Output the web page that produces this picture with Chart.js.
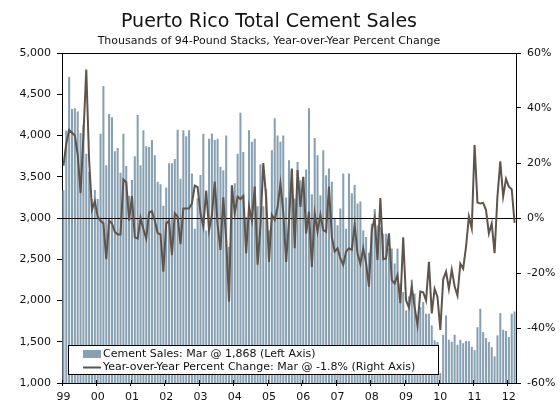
<!DOCTYPE html>
<html>
<head>
<meta charset="utf-8">
<script src="https://cdn.jsdelivr.net/npm/chart.js@4/dist/chart.umd.min.js"></script>
<style>
html,body{margin:0;padding:0;background:#fff;}
#wrap{width:560px;height:408px;position:relative;}
</style>
</head>
<body>
<div id="wrap"><canvas id="c" width="560" height="408"></canvas></div>
<script>
// ---- data ----
const titleText = 'Puerto Rico Total Cement Sales';
const subtitleText = 'Thousands of 94-Pound Stacks, Year-over-Year Percent Change';
const years = ['99','00','01','02','03','04','05','06','07','08','09','10','11','12'];
const monthNames = ['Jan','Feb','Mar','Apr','May','Jun','Jul','Aug','Sep','Oct','Nov','Dec'];
const leftTicks = [1000,1500,2000,2500,3000,3500,4000,4500,5000];
const rightTicks = [-60,-40,-20,0,20,40,60];

// Cement sales, thousands of 94-lb bags, Jan 1999 - Mar 2012
const cementSales = [
  3340,4060,4710,4320,4330,4290,4030,4130,3780,3560,3230,3340,
  3230,4020,4600,3640,4260,4220,3810,3850,3550,4020,3630,3270,
  3460,3750,4250,3640,4065,3870,3860,3945,3760,3440,3410,3150,
  3370,3665,3665,3715,4070,3475,4065,3990,4065,3540,2870,3240,
  3520,4020,2850,3960,4025,3945,3960,3620,3580,4000,2650,3400,
  3420,3780,4275,3800,3010,4065,3925,3960,3143,3652,3143,3349,
  2851,3822,4210,4000,3925,4000,3248,3701,3588,3236,3680,3458,
  3498,3588,4330,3288,3970,3762,3276,3822,3519,3600,3438,2993,
  2912,3115,3540,2870,3540,3300,3400,3175,3200,2850,2770,2580,
  2930,3110,2910,2890,2810,2810,2630,2630,2450,2629,2204,2102,
  1880,2050,2253,2083,1799,1920,1981,1840,1840,1698,1516,1496,
  1120,1585,1819,1524,1500,1585,1464,1524,1483,1508,1508,1439,
  1398,1677,1900,1617,1545,1496,1435,1322,1577,1848,1645,1630,
  1557,1840,1868
];

// Year-over-year percent change
const yoyChange = [
  19,27,32,31,30,23,9,30,54,21,3,6,
  0.5,-1,-2,-15,-1,-2,-5,-6,-6,14,13,-1,
  8,-7,-7.5,0,-4,-7.5,2,2.5,-1,-5.5,-6,-19.5,
  -2,-1,-13.5,1.7,0.5,-9.5,3.5,3.5,3.5,5.3,11.8,11.2,
  1.7,-3.1,10,-4.4,1,13.2,-2.5,-11.6,7.5,-8,-30.4,11.8,
  1.7,7.8,6.9,8,-12.8,4.1,-1,11.4,-17,-3,20,7.3,
  -16,1.2,-0.7,4,12.6,2,-16,-1,18,-11,17.4,4,
  15,-5.6,2.3,-17.8,1.7,-5,1.2,-4.4,-5,11.4,-7,-12.2,
  -11,-14.7,-17,-12.2,-11,-11.6,-2.5,-12.8,-16.7,-11,-16.4,-25,
  -4.4,0,-15.3,7.3,-15,-14.7,-5.6,-22.6,-23.8,-20.8,-31,-7,
  -30,-32.5,-25,-32.4,-39,-26.7,-27,-30,-15.9,-34.7,-25.8,-28.7,
  -40.7,-22.3,-19.5,-25.8,-18.8,-24.8,-28.2,-16.6,-18.4,-10.4,0.5,-3.8,
  26.5,5.6,5.3,5.5,2.9,-5.6,-2,-12.8,7.8,20.6,7.8,14.2,
  11.4,10.5,-1.8
];

// ---- build ----
const categories = cementSales.map((_, i) => monthNames[i % 12] + ' ' + years[Math.floor(i / 12)]);
const lastIdx = cementSales.length - 1;
const lastMonth = monthNames[lastIdx % 12];
const fmt = v => v.toLocaleString('en-US');
const barLabel = `Cement Sales: ${lastMonth} @ ${fmt(cementSales[lastIdx])} (Left Axis)`;
const lineLabel = `Year-over-Year Percent Change: ${lastMonth} @ ${yoyChange[lastIdx].toFixed(1)}% (Right Axis)`;

const FONT = '"DejaVu Sans", Verdana, sans-serif';
const BAR_COLOR = '#88a1b2';
const LINE_COLOR = '#5e544b';
const TEXT_COLOR = '#111';

const decorPlugin = {
  id: 'decor',
  afterDatasetDraw(chart, args) {
    if (args.index !== 1) return;
    const {ctx, chartArea} = chart;
    const y0 = Math.round(chart.scales.y2.getPixelForValue(0)) + 0.5;
    ctx.save();
    ctx.strokeStyle = '#000';
    ctx.lineWidth = 1;
    ctx.beginPath();
    ctx.moveTo(chartArea.left, y0);
    ctx.lineTo(chartArea.right, y0);
    ctx.stroke();
    ctx.restore();
  },
  afterDraw(chart) {
    const {ctx, chartArea} = chart;
    ctx.save();
    // top border
    ctx.strokeStyle = '#000';
    ctx.lineWidth = 1;
    ctx.beginPath();
    ctx.moveTo(chartArea.left, Math.round(chartArea.top) + 0.5);
    ctx.lineTo(chartArea.right, Math.round(chartArea.top) + 0.5);
    ctx.stroke();
    // small inward tick stubs on the x axis at year starts
    const xs = chart.scales.x;
    const yb = Math.round(chartArea.bottom);
    ctx.beginPath();
    for (let i = 0; i < cementSales.length; i += 12) {
      const px = Math.round(xs.getPixelForValue(i) - (xs.width / cementSales.length) / 2) + 0.5;
      ctx.moveTo(px, yb - 3);
      ctx.lineTo(px, yb);
    }
    ctx.stroke();
    // title
    ctx.fillStyle = TEXT_COLOR;
    ctx.textAlign = 'center';
    ctx.textBaseline = 'alphabetic';
    ctx.font = '19px ' + FONT;
    ctx.fillText(titleText, 269, 27);
    ctx.font = '11px ' + FONT;
    ctx.fillText(subtitleText, 269, 44);
    // legend
    const lx = 68, ly = 345, lw = 371, lh = 30;
    ctx.fillStyle = '#fff';
    ctx.fillRect(lx, ly, lw, lh);
    ctx.strokeStyle = '#000';
    ctx.lineWidth = 1;
    ctx.strokeRect(lx + 0.5, ly + 0.5, lw - 1, lh - 1);
    ctx.fillStyle = BAR_COLOR;
    ctx.fillRect(83, 350, 18, 8);
    ctx.strokeStyle = LINE_COLOR;
    ctx.lineWidth = 2;
    ctx.beginPath();
    ctx.moveTo(83, 367.5);
    ctx.lineTo(101, 367.5);
    ctx.stroke();
    ctx.fillStyle = TEXT_COLOR;
    ctx.textAlign = 'left';
    ctx.textBaseline = 'middle';
    ctx.font = '11px ' + FONT;
    ctx.fillText(chart.data.datasets[1].label, 103, 354.5);
    ctx.fillText(chart.data.datasets[0].label, 103, 367.5);
    ctx.restore();
  }
};

new Chart(document.getElementById('c'), {
  type: 'bar',
  data: {
    labels: categories,
    datasets: [
      {
        type: 'line', label: lineLabel, data: yoyChange, yAxisID: 'y2',
        borderColor: LINE_COLOR, borderWidth: 2, pointRadius: 0, tension: 0, order: 0
      },
      {
        type: 'bar', label: barLabel, data: cementSales, yAxisID: 'y',
        backgroundColor: BAR_COLOR, barPercentage: 0.72, categoryPercentage: 1, order: 1
      }
    ]
  },
  options: {
    responsive: false,
    animation: false,
    devicePixelRatio: 1,
    layout: { padding: { top: 53, left: 0, right: 0, bottom: 0 } },
    plugins: { legend: { display: false }, title: { display: false }, tooltip: { enabled: false } },
    scales: {
      x: {
        type: 'category',
        offset: true,
        grid: {
          offset: true, drawOnChartArea: false, tickLength: 3,
          color: c => (c.index % 12 === 0 ? '#000' : 'rgba(0,0,0,0)')
        },
        border: { color: '#000' },
        ticks: {
          autoSkip: false, maxRotation: 0, minRotation: 0, padding: 5, color: TEXT_COLOR,
          font: { family: FONT, size: 11 },
          callback: (v, i) => (i % 12 === 0 ? years[i / 12] : '')
        },
        afterFit: s => { s.height = 25; }
      },
      y: {
        position: 'left', min: leftTicks[0], max: leftTicks[leftTicks.length - 1],
        afterBuildTicks: s => { s.ticks = leftTicks.map(v => ({ value: v })); },
        ticks: { callback: v => fmt(v), color: TEXT_COLOR, padding: 6, font: { family: FONT, size: 11 } },
        grid: { drawOnChartArea: false, tickLength: 5, color: '#000' },
        border: { color: '#000' },
        afterFit: s => { s.width = 62; }
      },
      y2: {
        position: 'right', min: rightTicks[0], max: rightTicks[rightTicks.length - 1],
        afterBuildTicks: s => { s.ticks = rightTicks.map(v => ({ value: v })); },
        ticks: { callback: v => v + '%', color: TEXT_COLOR, padding: 6, font: { family: FONT, size: 11 } },
        grid: { drawOnChartArea: false, tickLength: 5, color: '#000' },
        border: { color: '#000' },
        afterFit: s => { s.width = 44; }
      }
    }
  },
  plugins: [decorPlugin]
});
</script>
</body>
</html>
